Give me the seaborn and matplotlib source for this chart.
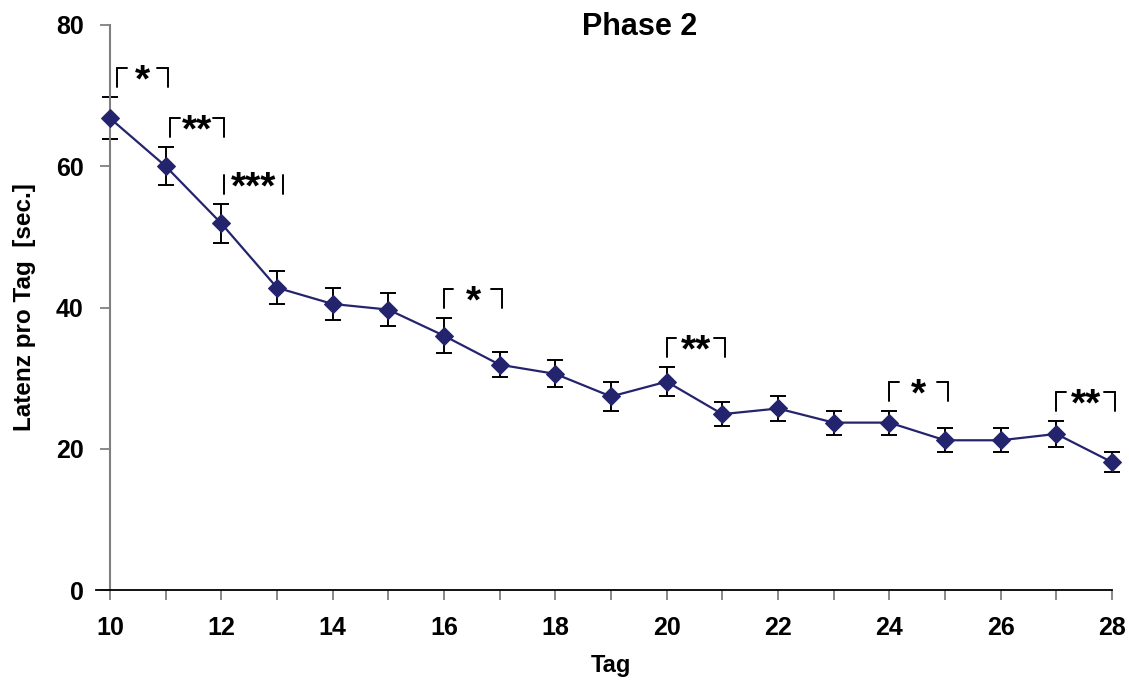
import numpy as np
import pandas as pd
import matplotlib
matplotlib.use("Agg")
import matplotlib.pyplot as plt
import seaborn as sns

# Mean latency per day with standard error
days = list(range(10, 29))
latency = [66.8, 60.0, 51.9, 42.8, 40.5, 39.7, 36.0, 31.9, 30.6, 27.4,
           29.5, 24.9, 25.7, 23.7, 23.7, 21.2, 21.2, 22.1, 18.1]
sem = [3.0, 2.7, 2.8, 2.3, 2.2, 2.3, 2.5, 1.8, 1.9, 2.0,
       2.1, 1.7, 1.7, 1.7, 1.7, 1.7, 1.7, 1.8, 1.4]

# Significance between consecutive days
sig_left = [10, 11, 12, 16, 20, 24, 27]
sig_right = [11, 12, 13, 17, 21, 25, 28]
sig_label = ["*", "**", "***", "*", "**", "*", "**"]

df = pd.DataFrame({"Tag": days, "Latenz": latency, "sem": sem})

sns.set_theme(style="white")
plt.rcParams["font.family"] = ["Liberation Sans", "DejaVu Sans"]
plt.rcParams["text.color"] = "black"
plt.rcParams["axes.labelcolor"] = "black"

fig = plt.figure(figsize=(11.29, 6.82), dpi=100)
ax = fig.add_axes([110 / 1129, 1 - 590 / 682, (1112 - 110) / 1129, (590 - 25) / 682])

navy = "#24246e"
ax.errorbar(df["Tag"], df["Latenz"], yerr=df["sem"], fmt="none",
            ecolor="black", elinewidth=1.4, capsize=6, capthick=1.4,
            zorder=2, clip_on=False)
sns.lineplot(data=df, x="Tag", y="Latenz", ax=ax, color=navy, lw=1.6,
             marker="D", markersize=9, markeredgecolor=navy,
             markerfacecolor=navy, zorder=3, clip_on=False)

ax.set_xlim(10, 28)
ax.set_ylim(0, 80)
ax.set_xticks(range(10, 29))
ax.set_xticklabels([str(d) if d % 2 == 0 else "" for d in range(10, 29)])
ax.set_yticks([0, 20, 40, 60, 80])

for lab in ax.get_xticklabels() + ax.get_yticklabels():
    lab.set_fontweight("bold")
    lab.set_fontsize(18)

ax.tick_params(axis="both", which="major", direction="out", length=7,
               width=1.3, color="#808080", labelcolor="black",
               bottom=True, left=True)
ax.tick_params(axis="x", pad=12)
ax.tick_params(axis="y", pad=12)

for s in ("top", "right"):
    ax.spines[s].set_visible(False)
ax.spines["left"].set_color("#808080")
ax.spines["left"].set_linewidth(1.5)
ax.spines["bottom"].set_color("black")
ax.spines["bottom"].set_linewidth(1.3)
ax.spines["bottom"].set_bounds(9.75, 28)

ax.set_xlabel("Tag", fontsize=17, fontweight="bold", labelpad=10)
ax.set_ylabel("Latenz pro Tag  [sec.]", fontsize=17.5, fontweight="bold", labelpad=14)
fig.text(640 / 1129, 1 - 27 / 682, "Phase 2", ha="center", va="center",
         fontsize=22, fontweight="bold")

# Significance brackets above the earlier day of each pair
lookup = dict(zip(days, zip(latency, sem)))
for a, b, lab in zip(sig_left, sig_right, sig_label):
    m, e = lookup[a]
    y0 = m + e + 1.4
    y1 = y0 + 2.7
    if lab == "***":
        xl, xr = a + 0.05, b + 0.1
    else:
        xl = a + 0.13 if a == 10 else a + (0.08 if a == 11 else 0.0)
        xr = b + 0.05
    ax.plot([xl, xl], [y0, y1], color="black", lw=1.4, clip_on=False)
    ax.plot([xr, xr], [y0, y1], color="black", lw=1.4, clip_on=False)
    if lab != "***":
        ax.plot([xl, xl + 0.17], [y1, y1], color="black", lw=1.4, clip_on=False)
        ax.plot([xr - 0.2, xr], [y1, y1], color="black", lw=1.4, clip_on=False)
    ax.annotate(lab, xy=((xl + xr) / 2, y1), xytext=(0, -17),
                textcoords="offset points", ha="center", va="baseline",
                fontsize=28, fontweight="bold", color="black")

fig.savefig("out.png", dpi=100, facecolor="white")
